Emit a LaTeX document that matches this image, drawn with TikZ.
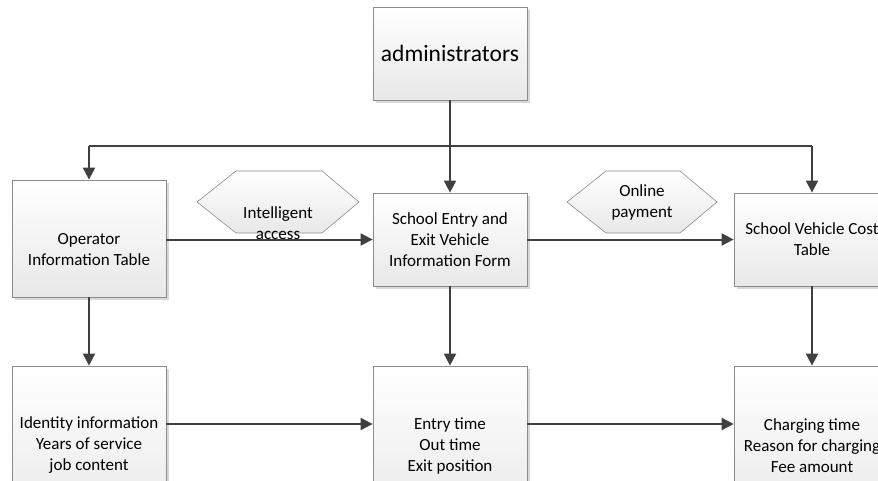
\documentclass[tikz,border=0pt]{standalone}
\usepackage{fontspec}
\setmainfont{Carlito}
\usetikzlibrary{arrows.meta,shadows}
\definecolor{lineclr}{HTML}{404040}
\definecolor{edgeclr}{HTML}{8C8C8C}
\begin{document}
\begin{tikzpicture}[x=1pt,y=-1pt,
  box/.style={draw=edgeclr,line width=0.8pt,top color=white,bottom color=black!9,
    drop shadow={shadow xshift=3pt,shadow yshift=-3pt,fill=black!25,opacity=0.6},
    minimum width=154pt,inner sep=0pt,align=center,
    font=\fontsize{17}{21}\selectfont},
  hexa/.style={draw=edgeclr,line width=0.6pt,top color=white,bottom color=black!9},
  txt/.style={align=center,inner sep=0pt,font=\fontsize{17}{21}\selectfont},
  arr/.style={draw=lineclr,line width=2pt,-{Triangle[length=12pt,width=12pt]}},
  ln/.style={draw=lineclr,line width=2pt}]
\useasboundingbox (0,0) rectangle (878,481);
\clip (0,0) rectangle (878,481);
% boxes
\node[box,minimum height=93pt,font=\fontsize{23.5}{28}\selectfont] (admin) at (450,53.5) {administrators};
\node[box,minimum height=117pt] (op) at (89,238.5) {};
\node[txt] (optxt) at (89,250) {Operator\\Information Table};
\node[box,minimum height=93pt] (entry) at (450,239.5) {School Entry and\\Exit Vehicle\\Information Form};
\node[box,minimum height=93pt,minimum width=156pt] (cost) at (812,239.5) {School Vehicle Cost\\Table};
\node[box,minimum height=159pt] (ident) at (89,445.5) {Identity information\\Years of service\\job content};
\node[box,minimum height=159pt] (times) at (450,445.5) {Entry time\\Out time\\Exit position};
\node[box,minimum height=159pt,minimum width=156pt] (fee) at (812,445.5) {Charging time\\Reason for charging\\Fee amount};
% hexagons
\path[hexa] (197,202) -- (236,171) -- (322,171) -- (359,202) -- (322,233) -- (236,233) -- cycle;
\node[txt] (hex1) at (278,223.5) {Intelligent\\access};
\path[hexa] (567,202) -- (606,171) -- (680,171) -- (717,202) -- (680,233) -- (606,233) -- cycle;
\node[txt] (hex2) at (642,202) {Online\\payment};
% connectors
\coordinate (busL) at (89,146);
\coordinate (busR) at (812,146);
\draw[ln] (busL) -- (busR);
\draw[arr] (admin.south) -- (entry.north);
\draw[arr] (busL) -- (op.north);
\draw[arr] (busR) -- (cost.north);
\draw[arr] (op.east |- entry.west) -- (entry.west);
\draw[arr] (entry.east) -- (cost.west);
\draw[arr] (op.south) -- (ident.north);
\draw[arr] (entry.south) -- (times.north);
\draw[arr] (cost.south) -- (fee.north);
\draw[arr] ([yshift=21.5pt]ident.east) -- ([yshift=21.5pt]times.west);
\draw[arr] ([yshift=21.5pt]times.east) -- ([yshift=21.5pt]fee.west);
\end{tikzpicture}
\end{document}
